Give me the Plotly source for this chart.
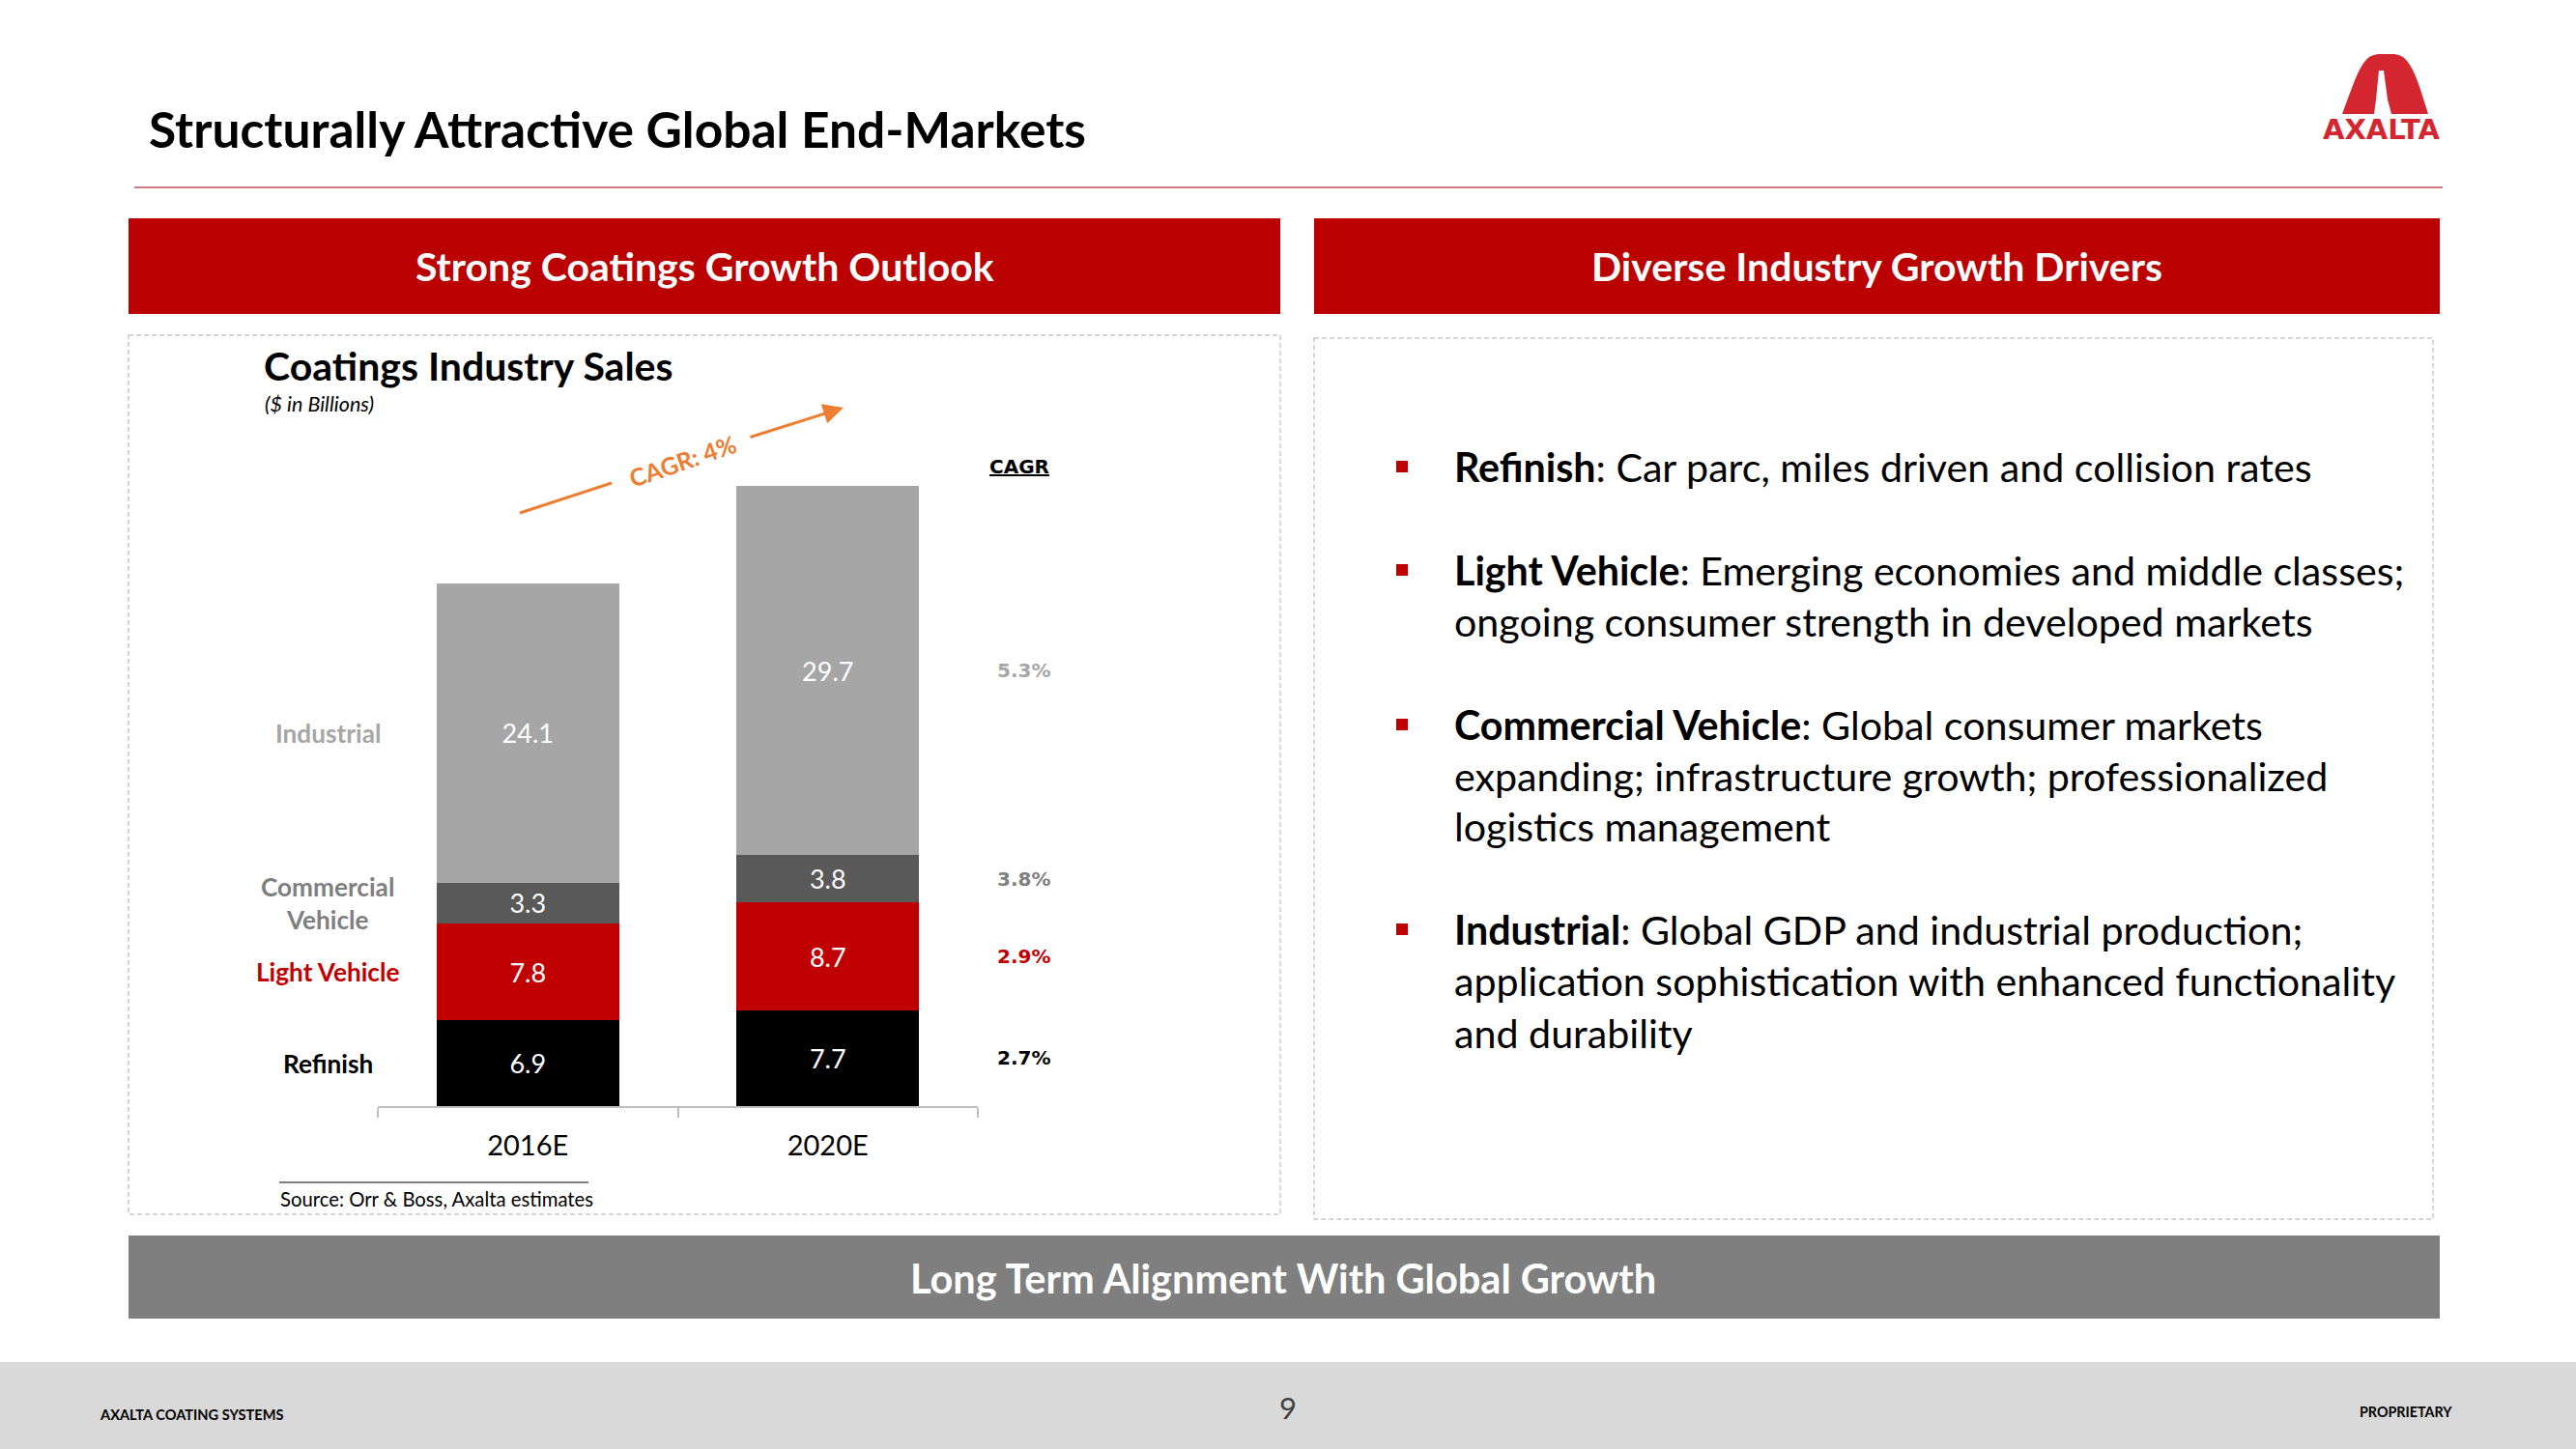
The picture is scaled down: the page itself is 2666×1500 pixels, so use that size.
import plotly.graph_objects as go

# ---------------- data ----------------
categories = ["2016E", "2020E"]
segments = ["Refinish", "Light Vehicle", "Commercial Vehicle", "Industrial"]
refinish = [6.9, 7.7]
light_vehicle = [7.8, 8.7]
commercial_vehicle = [3.3, 3.8]
industrial = [24.1, 29.7]
cagr_labels = ["2.7%", "2.9%", "3.8%", "5.3%"]
overall_cagr = "CAGR: 4%"
left_labels = ["Refinish", "Light Vehicle", "Commercial<br>Vehicle", "Industrial"]

bullets = [
    ("Refinish", [": Car parc, miles driven and collision rates"]),
    ("Light Vehicle", [": Emerging economies and middle classes;",
                       "ongoing consumer strength in developed markets"]),
    ("Commercial Vehicle", [": Global consumer markets",
                            "expanding; infrastructure growth; professionalized",
                            "logistics management"]),
    ("Industrial", [": Global GDP and industrial production;",
                    "application sophistication with enhanced functionality",
                    "and durability"]),
]

# ---------------- style ----------------
W, H = 2666, 1500
FONT = "Lato"
SEG_COLORS = ["#000000", "#C00000", "#595959", "#A6A6A6"]
LABEL_COLORS = ["#000000", "#C00000", "#7F7F7F", "#A6A6A6"]
BAND_RED = "#BA0000"
ORANGE = "#ED7D31"


def px(x):
    return x / W


def py(y):
    return 1 - y / H


series = [refinish, light_vehicle, commercial_vehicle, industrial]

fig = go.Figure()
for name, vals, col in zip(segments, series, SEG_COLORS):
    fig.add_trace(go.Bar(
        x=categories, y=vals, name=name, marker=dict(color=col, line=dict(width=0)),
        text=[f"{v:.1f}" for v in vals], textposition="inside",
        insidetextanchor="middle", textangle=0, constraintext="none",
        insidetextfont=dict(family=FONT, size=27, color="white"),
        hoverinfo="skip",
    ))

shapes = []
ann = []

# slide title and rule
ann.append(dict(x=px(152), y=py(133), xref="paper", yref="paper", xanchor="left", yanchor="middle",
                text="<b>Structurally Attractive Global End-Markets</b>", showarrow=False,
                font=dict(family=FONT, size=51.5, color="#000000")))
shapes.append(dict(type="line", xref="paper", yref="paper", x0=px(139), x1=px(2528), y0=py(194), y1=py(194),
                   line=dict(color="#C0505A", width=1.5)))

# logo
def path(pts):
    out = []
    for cmd, coords in pts:
        s = cmd
        s += " ".join(f"{px(coords[i]):.5f},{py(coords[i+1]):.5f}" for i in range(0, len(coords), 2))
        out.append(s)
    return " ".join(out) + " Z"

logo_red = path([
    ("M", [2424, 118]),
    ("C", [2434, 92, 2440, 72, 2448, 63]),
    ("C", [2452, 58, 2457, 56, 2463, 56]),
    ("L", [2476, 56]),
    ("C", [2482, 56, 2487, 58, 2491, 63]),
    ("C", [2499, 72, 2505, 92, 2513, 118]),
])
logo_white = path([
    ("M", [2462, 73]), ("L", [2467, 73]), ("L", [2471, 103]), ("L", [2475, 118]),
    ("L", [2457, 118]), ("L", [2459, 103]),
])
shapes.append(dict(type="path", xref="paper", yref="paper", path=logo_red,
                   fillcolor="#D42630", line=dict(width=0)))
shapes.append(dict(type="path", xref="paper", yref="paper", path=logo_white,
                   fillcolor="#FFFFFF", line=dict(width=0)))
ann.append(dict(x=px(2464), y=py(134), xref="paper", yref="paper", xanchor="center", yanchor="middle",
                text="<b>AXALTA</b>", showarrow=False,
                font=dict(family="DejaVu Sans", size=29, color="#D42630")))

# header bands
for (x0, x1, txt) in [(133, 1325, "Strong Coatings Growth Outlook"),
                      (1360, 2525, "Diverse Industry Growth Drivers")]:
    shapes.append(dict(type="rect", xref="paper", yref="paper", x0=px(x0), x1=px(x1), y0=py(226), y1=py(325),
                       fillcolor=BAND_RED, line=dict(width=0), layer="below"))
    ann.append(dict(x=px((x0 + x1) / 2), y=py(276), xref="paper", yref="paper", xanchor="center",
                    yanchor="middle", text=f"<b>{txt}</b>", showarrow=False,
                    font=dict(family=FONT, size=41, color="#FFFFFF")))

# dashed boxes
for (x0, x1, y0, y1) in [(133, 1325, 347, 1257), (1360, 2518, 350, 1262)]:
    shapes.append(dict(type="rect", xref="paper", yref="paper", x0=px(x0), x1=px(x1), y0=py(y0), y1=py(y1),
                       fillcolor="rgba(0,0,0,0)", line=dict(color="#C8C8C8", width=1.5, dash="5px,3px"),
                       layer="below"))

# bottom grey band
shapes.append(dict(type="rect", xref="paper", yref="paper", x0=px(133), x1=px(2525), y0=py(1279), y1=py(1365),
                   fillcolor="#7F7F7F", line=dict(width=0), layer="below"))
ann.append(dict(x=px(1328), y=py(1323), xref="paper", yref="paper", xanchor="center", yanchor="middle",
                text="<b>Long Term Alignment With Global Growth</b>", showarrow=False,
                font=dict(family=FONT, size=41.5, color="#FFFFFF")))

# footer
shapes.append(dict(type="rect", xref="paper", yref="paper", x0=0, x1=1, y0=py(1410), y1=0,
                   fillcolor="#D9D9D9", line=dict(width=0), layer="below"))
ann.append(dict(x=px(101), y=py(1464), xref="paper", yref="paper", xanchor="left", yanchor="middle",
                text="<b>AXALTA COATING SYSTEMS</b>", showarrow=False,
                font=dict(family=FONT, size=14.6, color="#000000")))
ann.append(dict(x=px(1333), y=py(1457), xref="paper", yref="paper", xanchor="center", yanchor="middle",
                text="9", showarrow=False, font=dict(family=FONT, size=31, color="#404040")))
ann.append(dict(x=px(2540), y=py(1461), xref="paper", yref="paper", xanchor="right", yanchor="middle",
                text="<b>PROPRIETARY</b>", showarrow=False,
                font=dict(family=FONT, size=14.3, color="#000000")))

# chart title
ann.append(dict(x=px(271), y=py(379), xref="paper", yref="paper", xanchor="left", yanchor="middle",
                text="<b>Coatings Industry Sales</b>", showarrow=False,
                font=dict(family=FONT, size=41, color="#000000")))
ann.append(dict(x=px(272), y=py(418), xref="paper", yref="paper", xanchor="left", yanchor="middle",
                text="<i>($ in Billions)</i>", showarrow=False,
                font=dict(family=FONT, size=21.5, color="#000000")))

# left segment labels at 2016E segment centres, CAGR labels at 2020E centres
cum0, cum1 = 0.0, 0.0
for i, vals in enumerate(series):
    mid0 = cum0 + vals[0] / 2
    mid1 = cum1 + vals[1] / 2
    cum0 += vals[0]
    cum1 += vals[1]
    ann.append(dict(x=px(339), y=mid0, xref="paper", yref="y", xanchor="center", yanchor="middle",
                    text=f"<b>{left_labels[i]}</b>", showarrow=False,
                    font=dict(family=FONT, size=26.2, color=LABEL_COLORS[i])))
    ann.append(dict(x=px(1059), y=mid1, xref="paper", yref="y", xanchor="center", yanchor="middle",
                    text=f"<b>{cagr_labels[i]}</b>", showarrow=False,
                    font=dict(family="DejaVu Sans", size=20, color=LABEL_COLORS[i])))

ann.append(dict(x=px(1055), y=py(483), xref="paper", yref="paper", xanchor="center", yanchor="middle",
                text="<b><u>CAGR</u></b>", showarrow=False,
                font=dict(family="DejaVu Sans", size=20, color="#000000")))

# CAGR arrow
shapes.append(dict(type="line", xref="paper", yref="paper", x0=px(538), y0=py(531), x1=px(633), y1=py(500),
                   line=dict(color=ORANGE, width=3)))
ann.append(dict(x=px(873), y=py(422), xref="paper", yref="paper", ax=775 - 873, ay=453 - 422,
                axref="pixel", ayref="pixel", text="", showarrow=True, arrowhead=2, arrowsize=1.4,
                arrowwidth=3, arrowcolor=ORANGE, standoff=0))
ann.append(dict(x=px(706), y=py(477), xref="paper", yref="paper", xanchor="center", yanchor="middle",
                text=f"<b>{overall_cagr}</b>", textangle=-19, showarrow=False,
                font=dict(family=FONT, size=25, color=ORANGE)))

# source
shapes.append(dict(type="line", xref="paper", yref="paper", x0=px(289), x1=px(609), y0=py(1224), y1=py(1224),
                   line=dict(color="#000000", width=1)))
ann.append(dict(x=px(288), y=py(1241), xref="paper", yref="paper", xanchor="left", yanchor="middle",
                text="Source: Orr &amp; Boss, Axalta estimates", showarrow=False,
                font=dict(family=FONT, size=20.3, color="#000000")))

# bullets
line_y = [[483], [590, 643], [750, 803, 855], [962, 1015, 1069]]
for (head, lines), ys in zip(bullets, line_y):
    shapes.append(dict(type="rect", xref="paper", yref="paper", x0=px(1445), x1=px(1457),
                       y0=py(ys[0] - 6), y1=py(ys[0] + 6), fillcolor="#C00000", line=dict(width=0)))
    for j, (ln, yy) in enumerate(zip(lines, ys)):
        txt = (f"<b>{head}</b>" + ln) if j == 0 else ln
        ann.append(dict(x=px(1503), y=py(yy), xref="paper", yref="paper", xanchor="left", yanchor="middle",
                        text=txt, showarrow=False, font=dict(family=FONT, size=41.2, color="#000000")))

fig.update_layout(
    width=W, height=H, autosize=False,
    margin=dict(l=0, r=0, t=0, b=0),
    paper_bgcolor="white", plot_bgcolor="white",
    barmode="stack", bargap=0.39, showlegend=False,
    shapes=shapes, annotations=ann,
    font=dict(family=FONT),
    xaxis=dict(domain=[px(391), px(1012)], type="category", showline=True, linecolor="#BFBFBF",
               linewidth=1.5, ticks="outside", tickson="boundaries", ticklen=10, tickcolor="#BFBFBF",
               tickwidth=1.5, showgrid=False, ticklabelstandoff=14,
               tickfont=dict(family=FONT, size=29, color="#000000"), fixedrange=True),
    yaxis=dict(domain=[py(1145), py(1145 - 50 * 12.86)], range=[0, 50], visible=False, fixedrange=True),
)

fig.write_html("out.html", config={"displayModeBar": False},
               post_script="document.body.style.margin='0';document.body.style.overflow='hidden';")
